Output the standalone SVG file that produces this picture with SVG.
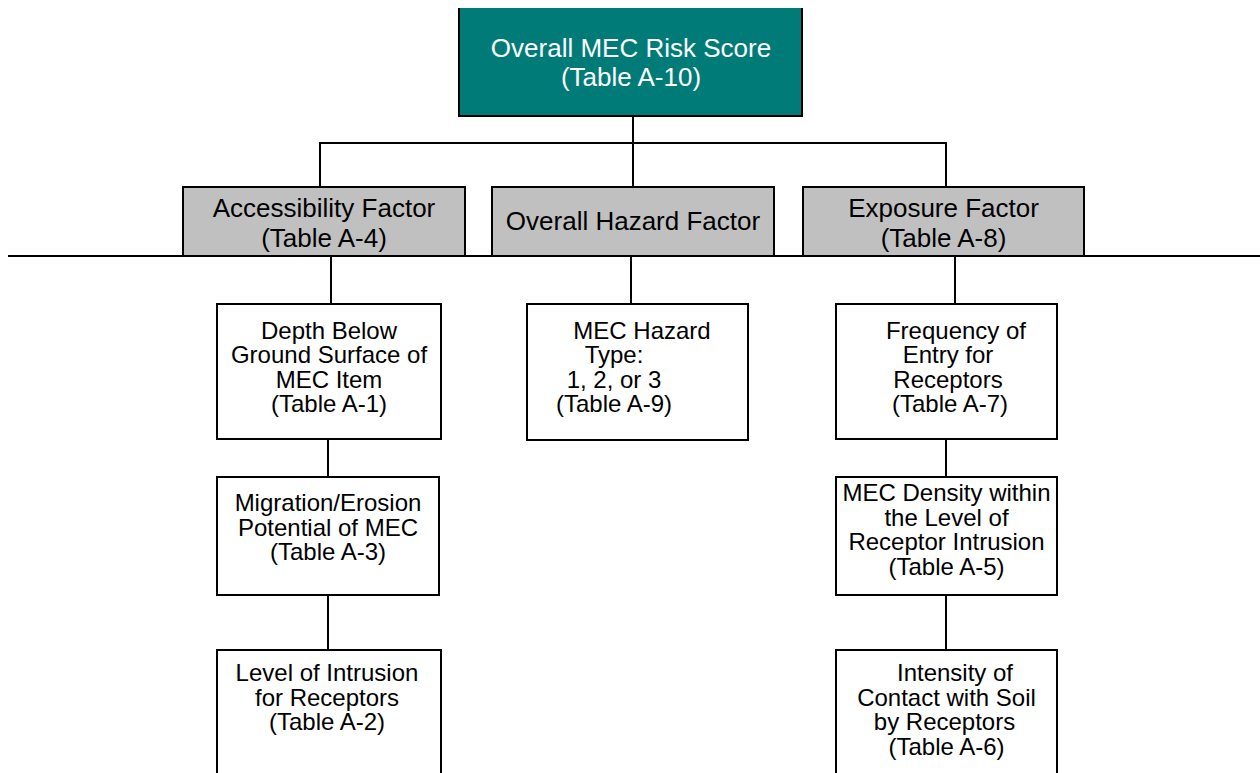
<svg xmlns="http://www.w3.org/2000/svg" width="1260" height="773" viewBox="0 0 1260 773">
<style>
.ln{stroke:#000;stroke-width:2;fill:none}
.box{fill:#fff;stroke:#000;stroke-width:2}
.gray{fill:#C0C0C0;stroke:#000;stroke-width:2}
.t{font-family:"Liberation Sans",Arial,sans-serif;fill:#000;text-anchor:middle}
.big{font-size:26px}
.sm{font-size:24px}
.w{fill:#fff}
</style>
<rect width="1260" height="773" fill="#fff"/>
<g id="connectors">
<line class="ln" x1="633" y1="116" x2="633" y2="187"/>
<line class="ln" x1="319" y1="143" x2="947" y2="143"/>
<line class="ln" x1="320" y1="142" x2="320" y2="187"/>
<line class="ln" x1="946" y1="142" x2="946" y2="187"/>
<line class="ln" x1="8" y1="256" x2="1260" y2="256"/>
<line class="ln" x1="331" y1="256" x2="331" y2="304"/>
<line class="ln" x1="631" y1="256" x2="631" y2="304"/>
<line class="ln" x1="955" y1="256" x2="955" y2="304"/>
<line class="ln" x1="328" y1="439" x2="328" y2="477"/>
<line class="ln" x1="328" y1="595" x2="328" y2="650"/>
<line class="ln" x1="946" y1="439" x2="946" y2="477"/>
<line class="ln" x1="946" y1="595" x2="946" y2="650"/>
</g>
<g id="n-overall">
<rect x="459" y="8" width="343" height="108" fill="#007B77"/>
<path class="ln" d="M459 8V116H802V8"/>
<text class="t big w" x="631" y="57">Overall MEC Risk Score</text>
<text class="t big w" x="631" y="86">(Table A-10)</text>
</g>
<g id="n-access">
<rect class="gray" x="183" y="187" width="282" height="69"/>
<text class="t big" x="324" y="217">Accessibility Factor</text>
<text class="t big" x="324" y="247">(Table A-4)</text>
</g>
<g id="n-hazard">
<rect class="gray" x="492" y="187" width="282" height="69"/>
<text class="t big" x="633" y="230">Overall Hazard Factor</text>
</g>
<g id="n-exposure">
<rect class="gray" x="803" y="187" width="281" height="69"/>
<text class="t big" x="943.5" y="217">Exposure Factor</text>
<text class="t big" x="943.5" y="247">(Table A-8)</text>
</g>
<g id="n-depth">
<rect class="box" x="217" y="304" width="224" height="135"/>
<text class="t sm" x="329" y="338.5">Depth Below</text>
<text class="t sm" x="329" y="363">Ground Surface of</text>
<text class="t sm" x="329" y="387.5">MEC Item</text>
<text class="t sm" x="329" y="412">(Table A-1)</text>
</g>
<g id="n-migration">
<rect class="box" x="217" y="477" width="222" height="118"/>
<text class="t sm" x="328" y="511">Migration/Erosion</text>
<text class="t sm" x="328" y="535.5">Potential of MEC</text>
<text class="t sm" x="328" y="560">(Table A-3)</text>
</g>
<g id="n-level">
<rect class="box" x="217" y="650" width="224" height="140"/>
<text class="t sm" x="327" y="681">Level of Intrusion</text>
<text class="t sm" x="327" y="705.5">for Receptors</text>
<text class="t sm" x="327" y="730">(Table A-2)</text>
</g>
<g id="n-hazardtype">
<rect class="box" x="527" y="304" width="221" height="136"/>
<text class="t sm" x="642" y="338.5">MEC Hazard</text>
<text class="t sm" x="614" y="363">Type:</text>
<text class="t sm" x="614" y="387.5">1, 2, or 3</text>
<text class="t sm" x="614" y="412">(Table A-9)</text>
</g>
<g id="n-frequency">
<rect class="box" x="836" y="304" width="221" height="135"/>
<text class="t sm" x="956" y="338.5">Frequency of</text>
<text class="t sm" x="948" y="363">Entry for</text>
<text class="t sm" x="948" y="387.5">Receptors</text>
<text class="t sm" x="950" y="412">(Table A-7)</text>
</g>
<g id="n-density">
<rect class="box" x="836" y="477" width="221" height="118"/>
<text class="t sm" x="946.5" y="501">MEC Density within</text>
<text class="t sm" x="946.5" y="525.5">the Level of</text>
<text class="t sm" x="946.5" y="550">Receptor Intrusion</text>
<text class="t sm" x="946.5" y="574.5">(Table A-5)</text>
</g>
<g id="n-intensity">
<rect class="box" x="836" y="650" width="221" height="140"/>
<text class="t sm" x="955" y="681">Intensity of</text>
<text class="t sm" x="946.5" y="705.5">Contact with Soil</text>
<text class="t sm" x="944.5" y="730">by Receptors</text>
<text class="t sm" x="946.5" y="754.5">(Table A-6)</text>
</g>
</svg>
